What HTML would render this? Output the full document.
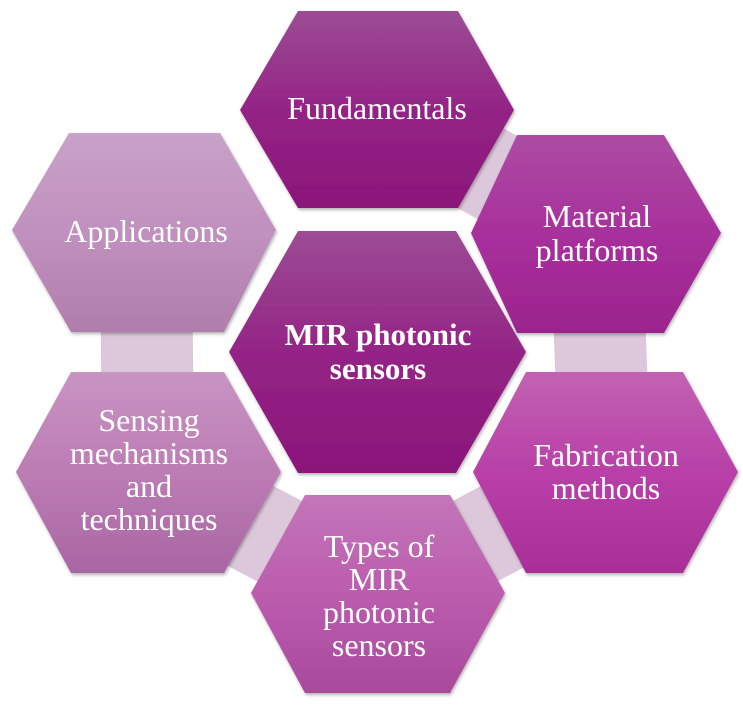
<!DOCTYPE html>
<html><head><meta charset="utf-8"><style>
html,body{margin:0;padding:0;background:#fff;}
svg{display:block;}
text{font-family:"Liberation Serif",serif;fill:#fff;text-anchor:middle;}
</style></head><body>
<svg width="743" height="705" viewBox="0 0 743 705" xmlns="http://www.w3.org/2000/svg">
<defs>
<linearGradient id="g1" x1="0" y1="0" x2="0" y2="1"><stop offset="0" stop-color="#9c4c94"/><stop offset="0.5" stop-color="#942486"/><stop offset="1" stop-color="#8a167a"/></linearGradient>
<linearGradient id="g2" x1="0" y1="0" x2="0" y2="1"><stop offset="0" stop-color="#ac4ca2"/><stop offset="0.5" stop-color="#a8309c"/><stop offset="1" stop-color="#9c248e"/></linearGradient>
<linearGradient id="g3" x1="0" y1="0" x2="0" y2="1"><stop offset="0" stop-color="#c262b2"/><stop offset="0.5" stop-color="#b840a8"/><stop offset="1" stop-color="#a82e98"/></linearGradient>
<linearGradient id="g4" x1="0" y1="0" x2="0" y2="1"><stop offset="0" stop-color="#c276b8"/><stop offset="0.5" stop-color="#bc5cae"/><stop offset="1" stop-color="#a84a9c"/></linearGradient>
<linearGradient id="g5" x1="0" y1="0" x2="0" y2="1"><stop offset="0" stop-color="#c894c2"/><stop offset="0.5" stop-color="#bc7cb4"/><stop offset="1" stop-color="#a866a2"/></linearGradient>
<linearGradient id="g6" x1="0" y1="0" x2="0" y2="1"><stop offset="0" stop-color="#c8a2c8"/><stop offset="0.5" stop-color="#c090be"/><stop offset="1" stop-color="#b07eac"/></linearGradient>
<filter id="sh" x="-10%" y="-10%" width="120%" height="120%"><feDropShadow dx="1" dy="2" stdDeviation="1.5" flood-color="#000" flood-opacity="0.3"/></filter>
</defs>
<g stroke="#dcc8da" stroke-width="92" fill="none" stroke-linejoin="round">
<polyline points="377,110 596,233 605,472 378,593 148,472 146,232"/>
</g>
<g filter="url(#sh)">
<polygon points="298,11 458,11 514,110 458,208 298,208 240,110" fill="url(#g1)"/>
<polygon points="69,133 220,133 276,230 224,332 71,332 12,230" fill="url(#g6)"/>
<polygon points="517,135 664,135 721,233 664,333 517,333 471,233" fill="url(#g2)"/>
<polygon points="298,231 456,231 526,352 456,473 298,473 229,352" fill="url(#g1)"/>
<polygon points="71,372 224,372 281,472 224,573 71,573 16,472" fill="url(#g5)"/>
<polygon points="526,372 683,372 738,472 683,573 526,573 473,472" fill="url(#g3)"/>
<polygon points="305,495 450,495 505,593 450,693 305,693 251,593" fill="url(#g4)"/>
</g>
<g font-size="32">
<text x="377" y="119">Fundamentals</text>
<text x="146" y="242">Applications</text>
<text x="597" y="227">Material</text>
<text x="597" y="261">platforms</text>
<text x="149" y="431">Sensing</text>
<text x="149" y="464">mechanisms</text>
<text x="149" y="497">and</text>
<text x="149" y="530">techniques</text>
<text x="606" y="466">Fabrication</text>
<text x="606" y="499">methods</text>
<text x="379" y="557">Types of</text>
<text x="379" y="590">MIR</text>
<text x="379" y="623">photonic</text>
<text x="379" y="656">sensors</text>
</g>
<text x="378" y="345" font-size="31" font-weight="bold">MIR photonic</text>
<text x="378" y="379" font-size="31" font-weight="bold">sensors</text>
</svg>
</body></html>
